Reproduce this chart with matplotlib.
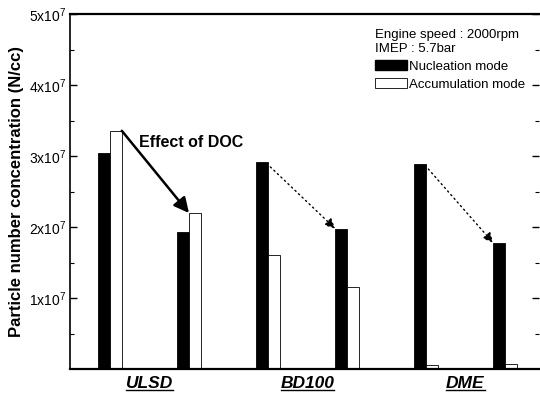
import numpy as np
import matplotlib
matplotlib.use("Agg")
import matplotlib.pyplot as plt
from matplotlib.patches import Patch
from matplotlib.lines import Line2D

plt.rcParams.update({
    "font.family": ["Liberation Sans", "DejaVu Sans"],
    "font.size": 10,
    "mathtext.default": "regular",
})

# --- data (N/cc) ---
fuels = ["ULSD", "BD100", "DME"]
nucleation_before = [3.05e7, 2.92e7, 2.89e7]
accumulation_before = [3.36e7, 1.61e7, 0.05e7]
nucleation_after = [1.93e7, 1.98e7, 1.78e7]
accumulation_after = [2.20e7, 1.16e7, 0.07e7]
ytick_vals = [1e7, 2e7, 3e7, 4e7, 5e7]
ytick_labels = ["1x10$^7$", "2x10$^7$", "3x10$^7$", "4x10$^7$", "5x10$^7$"]

w = 0.15
pos_before = np.arange(len(fuels)) * 2
pos_after = pos_before + 1

fig = plt.figure(figsize=(5.40, 3.97), dpi=100)
ax = fig.add_axes([0.1296, 0.0705, 0.8685, 0.893])

for pos, nuc, acc in [(pos_before, nucleation_before, accumulation_before),
                      (pos_after, nucleation_after, accumulation_after)]:
    ax.bar(pos - w / 2, nuc, width=w, color="black", edgecolor="black", linewidth=0.6)
    ax.bar(pos + w / 2, acc, width=w, color="white", edgecolor="black", linewidth=0.6)

# DOC arrows
ax.annotate("", xy=(pos_after[0], accumulation_after[0]),
            xytext=(pos_before[0] + w, accumulation_before[0]),
            arrowprops=dict(arrowstyle="-|>,head_length=0.9,head_width=0.45",
                            color="black", lw=1.8, shrinkA=0, shrinkB=0))
for k in (1, 2):
    ax.annotate("", xy=(pos_after[k] - w, nucleation_after[k]),
                xytext=(pos_before[k] + 0.03, nucleation_before[k] - 0.07e7),
                arrowprops=dict(arrowstyle="-|>,head_length=0.6,head_width=0.3",
                                color="black", lw=1.0, ls=(0, (1, 2.5)),
                                shrinkA=0, shrinkB=0))
ax.text(0.37, 3.19e7, "Effect of DOC", fontsize=11.5, fontweight="bold", va="center")

ax.set_xlim(-0.506, 5.43)
ax.set_ylim(0, 5e7)
ax.set_yticks(ytick_vals, ytick_labels, fontsize=10)
ax.set_yticks(np.arange(0.5e7, 5e7, 1e7), minor=True)
ax.tick_params(axis="y", which="major", direction="in", length=5, width=1, right=True, pad=3)
ax.tick_params(axis="y", which="minor", direction="in", length=3, width=0.8, right=True)
ax.set_xticks((pos_before + pos_after) / 2, fuels,
              fontsize=12.5, fontweight="bold", fontstyle="italic")
ax.tick_params(axis="x", length=0, pad=5)
ax.set_ylabel("Particle number concentration (N/cc)", fontsize=12,
              fontweight="bold", labelpad=3)

for s in ("top", "bottom"):
    ax.spines[s].set_linewidth(1.6)
ax.spines["left"].set_linewidth(1.2)
ax.spines["right"].set_visible(False)

handles = [Patch(facecolor="black", edgecolor="black", label="Nucleation mode"),
           Patch(facecolor="white", edgecolor="black", linewidth=0.6,
                 label="Accumulation mode")]
leg = ax.legend(handles=handles, title="Engine speed : 2000rpm\nIMEP : 5.7bar",
                loc="upper left", bbox_to_anchor=(0.636, 0.978), frameon=False,
                fontsize=9.5, title_fontsize=9.5, handlelength=2.4, handleheight=0.75,
                handletextpad=0.2, labelspacing=0.42, borderpad=0, alignment="left")

# underline the category labels
fig.canvas.draw()
renderer = fig.canvas.get_renderer()
for lab in ax.get_xticklabels():
    bb = lab.get_window_extent(renderer)
    fig.add_artist(Line2D([bb.x0 / fig.bbox.width, bb.x1 / fig.bbox.width],
                          [(bb.y0 + 1) / fig.bbox.height] * 2,
                          color="black", lw=1.0, transform=fig.transFigure))

fig.savefig("out.png", dpi=100)
